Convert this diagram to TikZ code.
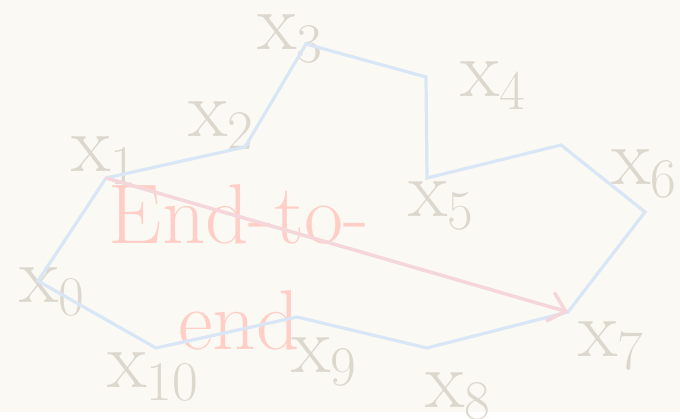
\documentclass[tikz,border=0pt]{standalone}
\usepackage{fontspec}
\usetikzlibrary{arrows.meta}
\definecolor{bgc}{HTML}{FBF9F4}
\definecolor{labc}{HTML}{DCD8CE}
\definecolor{pathc}{HTML}{D9E6F5}
\definecolor{arrc}{HTML}{F5D6DA}
\definecolor{redc}{HTML}{FFCFC7}
\newcommand{\xsub}[1]{x{\fontsize{56}{56}\selectfont\raisebox{-13pt}{#1}}}
\begin{document}
\begin{tikzpicture}[x=1pt,y=-1pt,
  lab/.style={anchor=base west,inner sep=0pt,text=labc,font=\fontsize{81}{81}\selectfont},
  big/.style={align=center,inner sep=0pt,text=redc,font=\fontsize{85}{106}\selectfont},
  pathline/.style={draw=pathc,line width=3.2pt,line join=miter},
  arrline/.style={draw=arrc,line width=3.5pt,-{Straight Barb[length=16pt,width=30pt,line width=3.5pt]}}]
\useasboundingbox (0,0) rectangle (680,419);
\fill[white] (0,0) rectangle (680,419);
\fill[bgc] (0,0) rectangle (680,412);
% text
\node[big,anchor=base] (e2e) at (239,350) {End-to-\\end};
% labels
\node[lab] (l0) at (19,303) {\xsub{0}};
\node[lab] (l1) at (71,172) {\xsub{1}};
\node[lab] (l2) at (188,137) {\xsub{2}};
\node[lab] (l3) at (257,50) {\xsub{3}};
\node[lab] (l4) at (460,97) {\xsub{4}};
\node[lab] (l5) at (408,217) {\xsub{5}};
\node[lab] (l6) at (611,185) {\xsub{6}};
\node[lab] (l7) at (578,357) {\xsub{7}};
\node[lab] (l8) at (425,407) {\xsub{8}};
\node[lab] (l9) at (291,373) {\xsub{9}};
\node[lab] (l10) at (107,388) {\xsub{10}};
% path vertices
\coordinate (p0) at (38,281);
\coordinate (p1) at (106,178);
\coordinate (p2) at (245,147);
\coordinate (p3) at (306,44);
\coordinate (p4) at (426,77);
\coordinate (p5) at (427,178);
\coordinate (p6a) at (561,145);
\coordinate (p6b) at (645,212);
\coordinate (p7) at (568,312);
\coordinate (p8) at (427,348);
\coordinate (p9) at (297,317);
\coordinate (p10) at (156,348);
\draw[pathline] (p0) -- (p1) -- (p2) -- (p3) -- (p4) -- (p5) -- (p6a) -- (p6b) -- (p7) -- (p8) -- (p9) -- (p10) -- cycle;
\draw[arrline] (p1) -- (p7);
\end{tikzpicture}
\end{document}
